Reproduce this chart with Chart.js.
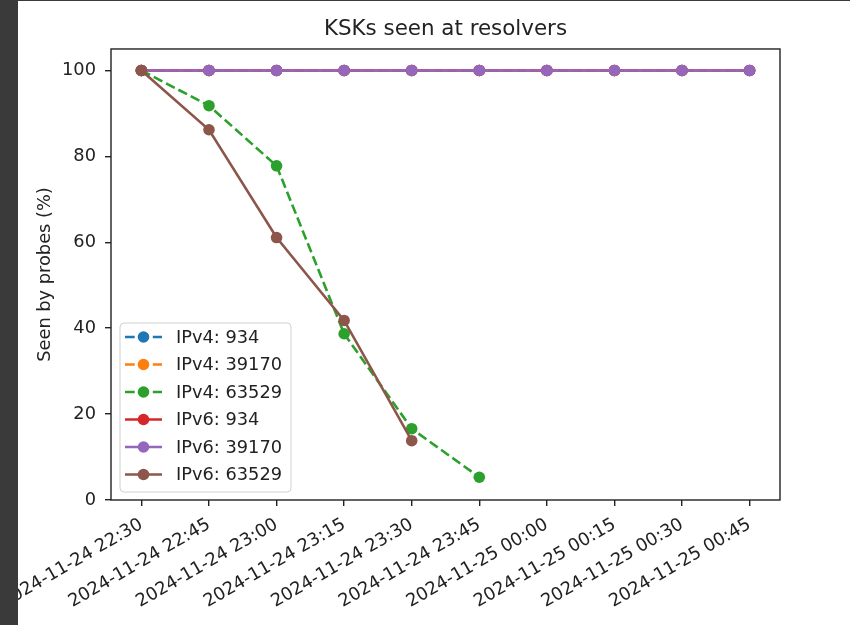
<!DOCTYPE html>
<html>
<head>
<meta charset="utf-8">
<title>KSKs seen at resolvers</title>
<script src="https://cdn.jsdelivr.net/npm/chart.js@4.4.1/dist/chart.umd.min.js"></script>
<style>
  html, body { margin: 0; padding: 0; background: #fff; }
  #wrap { position: relative; width: 850px; height: 625px; overflow: hidden; }
  #edgeLeft { position: absolute; left: 0; top: 0; width: 18px; height: 625px; background: #3a3a3a; }
  #edgeTop { position: absolute; left: 0; top: 0; width: 850px; height: 1px; background: #3a3a3a; }
</style>
</head>
<body>
<div id="wrap">
  <canvas id="kskChart" width="850" height="625"></canvas>
  <div id="edgeLeft"></div>
  <div id="edgeTop"></div>
</div>
<script>
// time buckets on the x axis
const timeLabels = [
  "2024-11-24 22:30", "2024-11-24 22:45", "2024-11-24 23:00", "2024-11-24 23:15",
  "2024-11-24 23:30", "2024-11-24 23:45", "2024-11-25 00:00", "2024-11-25 00:15",
  "2024-11-25 00:30", "2024-11-25 00:45"
];

// % of probes that saw each key tag
const ipv4_934   = [100, 100, 100, 100, 100, 100, 100, 100, 100, 100];
const ipv4_39170 = [100, 100, 100, 100, 100, 100, 100, 100, 100, 100];
const ipv4_63529 = [100, 91.8, 77.8, 38.7, 16.6, 5.3];
const ipv6_934   = [100, 100, 100, 100, 100, 100, 100, 100, 100, 100];
const ipv6_39170 = [100, 100, 100, 100, 100, 100, 100, 100, 100, 100];
const ipv6_63529 = [100, 86.2, 61.1, 41.8, 13.8];

const seriesNames = ["IPv4: 934", "IPv4: 39170", "IPv4: 63529", "IPv6: 934", "IPv6: 39170", "IPv6: 63529"];
const seriesData = [ipv4_934, ipv4_39170, ipv4_63529, ipv6_934, ipv6_39170, ipv6_63529];
const seriesColors = ["#1f77b4", "#ff7f0e", "#2ca02c", "#d62728", "#9467bd", "#8c564b"];
const seriesDashed = [true, true, true, false, false, false];

const yTicks = [0, 20, 40, 60, 80, 100];

const FONT = "'DejaVu Sans', sans-serif";
const TEXT = "#222";
const FS = 17.8;
Chart.defaults.font.family = FONT;

const datasets = seriesData.map((vals, i) => ({
  label: seriesNames[i],
  data: vals.map((v, j) => ({ x: j, y: v })),
  borderColor: seriesColors[i],
  backgroundColor: seriesColors[i],
  borderWidth: 2.6,
  borderDash: seriesDashed[i] ? [9.7, 4.2] : [],
  pointRadius: 5.8,
  pointBorderWidth: 0,
  pointBackgroundColor: seriesColors[i],
  tension: 0,
  fill: false,
  // later series on top, like matplotlib
  order: seriesData.length - i
}));

// spines on all four sides
const framePlugin = {
  id: "frame",
  afterDatasetsDraw(chart) {
    const { ctx, chartArea: a } = chart;
    ctx.save();
    ctx.strokeStyle = "#222";
    ctx.lineWidth = 1.4;
    ctx.strokeRect(a.left, a.top, a.right - a.left, a.bottom - a.top);
    ctx.restore();
  }
};

// matplotlib style legend in the lower left of the axes
const legendPlugin = {
  id: "mplLegend",
  afterDraw(chart) {
    const { ctx, chartArea: a } = chart;
    const boxW = 171, boxH = 169, rowH = 27.5;
    const x0 = a.left + 9, y0 = a.bottom - 8 - boxH;
    ctx.save();
    ctx.beginPath();
    ctx.roundRect(x0, y0, boxW, boxH, 4);
    ctx.fillStyle = "rgba(255,255,255,0.8)";
    ctx.fill();
    ctx.strokeStyle = "#d0d0d0";
    ctx.lineWidth = 1;
    ctx.stroke();
    chart.data.datasets.forEach((ds, i) => {
      const cy = y0 + 14 + i * rowH;
      ctx.beginPath();
      ctx.setLineDash(ds.borderDash);
      ctx.strokeStyle = ds.borderColor;
      ctx.lineWidth = ds.borderWidth;
      ctx.moveTo(x0 + 5, cy);
      ctx.lineTo(x0 + 42, cy);
      ctx.stroke();
      ctx.setLineDash([]);
      ctx.beginPath();
      ctx.arc(x0 + 23.5, cy, ds.pointRadius, 0, Math.PI * 2);
      ctx.fillStyle = ds.pointBackgroundColor;
      ctx.fill();
      ctx.fillStyle = TEXT;
      ctx.font = FS + "px " + FONT;
      ctx.textBaseline = "middle";
      ctx.textAlign = "left";
      ctx.fillText(ds.label, x0 + 56, cy + 1);
    });
    ctx.restore();
  }
};

new Chart(document.getElementById("kskChart").getContext("2d"), {
  type: "line",
  data: { datasets: datasets },
  options: {
    responsive: false,
    animation: false,
    layout: { padding: { left: 0, right: 70, top: 0, bottom: 0 } },
    plugins: {
      legend: { display: false },
      tooltip: { enabled: false },
      title: {
        display: true,
        text: "KSKs seen at resolvers",
        fullSize: false,
        color: TEXT,
        font: { family: FONT, size: 21.4, weight: "normal" },
        padding: { top: 17, bottom: 6.3 }
      }
    },
    scales: {
      x: {
        type: "linear",
        min: -0.45,
        max: 9.45,
        afterBuildTicks: (scale) => { scale.ticks = timeLabels.map((_, i) => ({ value: i })); },
        afterFit: (scale) => {
          scale.height = 125;
          scale.paddingLeft = 0;
          scale.paddingRight = 0;
        },
        ticks: {
          callback: (v) => timeLabels[v],
          autoSkip: false,
          minRotation: 30,
          maxRotation: 30,
          padding: 8,
          color: TEXT,
          font: { family: FONT, size: FS }
        },
        grid: { drawOnChartArea: false, tickLength: 6, color: "#222", lineWidth: 1.4 },
        border: { display: false }
      },
      y: {
        min: 0,
        max: 105,
        afterBuildTicks: (scale) => { scale.ticks = yTicks.map((v) => ({ value: v })); },
        afterFit: (scale) => {
          scale.width = 111;
          scale.paddingTop = 0;
          scale.paddingBottom = 0;
        },
        ticks: {
          padding: 9,
          color: TEXT,
          font: { family: FONT, size: FS }
        },
        title: {
          display: true,
          text: "Seen by probes (%)",
          color: TEXT,
          font: { family: FONT, size: FS },
          padding: { top: 34.3, bottom: 0 }
        },
        grid: { drawOnChartArea: false, tickLength: 6, color: "#222", lineWidth: 1.4 },
        border: { display: false }
      }
    }
  },
  plugins: [framePlugin, legendPlugin]
});
</script>
</body>
</html>
